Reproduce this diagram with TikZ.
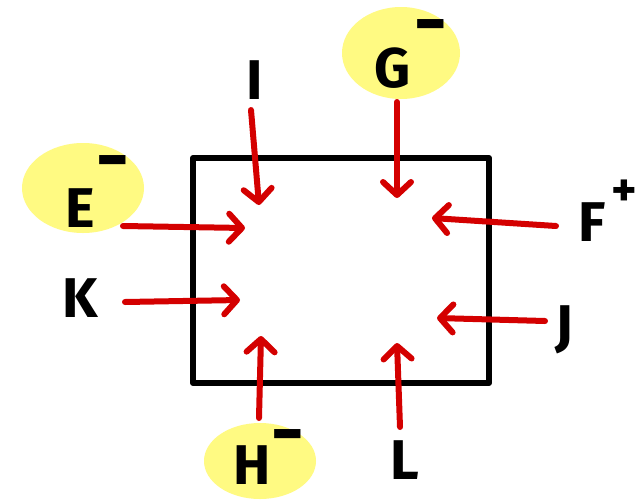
\documentclass[tikz,border=0pt]{standalone}
\usepackage{fontspec}
\setmainfont{Fira Sans}
\usetikzlibrary{arrows.meta}
\definecolor{arrred}{RGB}{212,0,0}
\definecolor{hilite}{RGB}{255,250,130}
\tikzset{
  lbl/.style={font=\fontsize{56}{60}\selectfont\bfseries, text=black, inner sep=0pt},
  chg/.style={font=\fontsize{44}{48}\selectfont\bfseries, text=black, inner sep=0pt},
  flow/.style={draw=arrred, line width=6pt, line cap=round,
    -{Straight Barb[length=13pt,width=28pt,round]}},
  blob/.style={fill=hilite, draw=none},
  box/.style={draw=black, line width=6pt, line join=round}
}
\begin{document}
\begin{tikzpicture}[x=1pt,y=-1pt]
\useasboundingbox (0,0) rectangle (639,501);
\fill[white] (0,0) rectangle (639,501);
% highlight blobs
\fill[blob] (83,188) ellipse [x radius=61, y radius=45];
\fill[blob] (401,53) ellipse [x radius=59, y radius=46];
\fill[blob] (260,461) ellipse [x radius=56, y radius=38];
% box
\draw[box] (193,158) rectangle (489,383);
% labels
\node[lbl] (I) at (255,80) {I};
\node[lbl] (G) at (393,68) {G};
\node[chg] (Gc) at (431,34) {\scalebox{1.25}[1.7]{–}};
\node[lbl] (E) at (80,208) {E};
\node[chg] (Ec) at (113,170) {\scalebox{1.25}[1.7]{–}};
\node[lbl] (K) at (80,298) {K};
\node[lbl] (F) at (592,222) {F};
\node[chg] (Fc) at (624,193) {\scalebox{1.1}{+}};
\node[lbl] (J) at (564,330) {J};
\node[lbl] (H) at (252,465) {H};
\node[chg] (Hc) at (288,444) {\scalebox{1.25}[1.7]{–}};
\node[lbl] (L) at (405,460) {L};
% arrow ends
\coordinate (Is) at (251,110); \coordinate (It) at (259,205);
\coordinate (Gs) at (397,102); \coordinate (Gt) at (397,198);
\coordinate (Es) at (123,226); \coordinate (Et) at (245,228);
\coordinate (Ks) at (125,302); \coordinate (Kt) at (240,300);
\coordinate (Fs) at (556,226); \coordinate (Ft) at (432,218);
\coordinate (Js) at (545,321); \coordinate (Jt) at (437,318);
\coordinate (Hs) at (259,418); \coordinate (Ht) at (261,336);
\coordinate (Ls) at (400,427); \coordinate (Lt) at (397,343);
\foreach \a in {I,G,E,K,F,J,H,L} {\draw[flow] (\a s) -- (\a t);}
\end{tikzpicture}
\end{document}
